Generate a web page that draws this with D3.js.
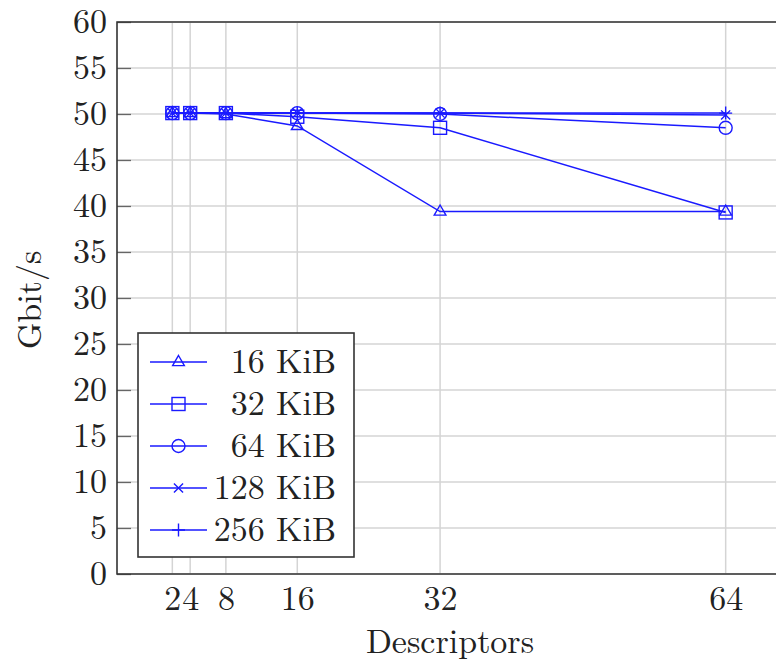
<!DOCTYPE html>
<html><head><meta charset="utf-8">
<script src="https://cdn.jsdelivr.net/npm/d3@7"></script>
<style>body{margin:0;background:#fff}</style>
</head><body><svg id="c" width="776" height="662"></svg>
<script>
const descriptors = [2, 4, 8, 16, 32, 64];
const seriesNames = ["16 KiB", "32 KiB", "64 KiB", "128 KiB", "256 KiB"];
const markers = ["triangle", "square", "circle", "cross", "plus"];
const v16 = [50.1, 50.1, 50.0, 48.7, 39.4, 39.4];
const v32 = [50.1, 50.1, 50.1, 49.7, 48.5, 39.3];
const v64 = [50.1, 50.1, 50.1, 50.1, 50.0, 48.5];
const v128 = [50.1, 50.1, 50.1, 50.1, 50.1, 49.9];
const v256 = [50.1, 50.1, 50.1, 50.1, 50.1, 50.1];
const yTicks = [0,5,10,15,20,25,30,35,40,45,50,55,60];
const seriesValues = [v16, v32, v64, v128, v256];

const FONT = '"Latin Modern Roman","CMU Serif","Liberation Serif",serif';
const FS = 34;
const svg = d3.select("#c");
const L = 117, T = 22, B = 574, R = 781;
const x = d3.scaleLinear().domain([-4.2, 70.2]).range([L, R]);
const y = d3.scaleLinear().domain([0, 60]).range([B, T]);
const blue = "#1a1aff";

// grid
svg.append("g").selectAll("line").data(yTicks).join("line")
  .attr("x1", L).attr("x2", R).attr("y1", d => y(d)).attr("y2", d => y(d))
  .attr("stroke", "#d4d4d4").attr("stroke-width", 1.5);
svg.append("g").selectAll("line").data(descriptors).join("line")
  .attr("x1", d => x(d)).attr("x2", d => x(d)).attr("y1", T).attr("y2", B)
  .attr("stroke", "#d4d4d4").attr("stroke-width", 1.5);

// axes via d3
const yAxis = d3.axisLeft(y).tickValues(yTicks).tickSize(-14);
const gy = svg.append("g").attr("transform", `translate(${L},0)`).call(yAxis);
gy.select(".domain").remove();
gy.selectAll(".tick line").attr("stroke", "#666").attr("stroke-width", 1.3);
gy.selectAll(".tick text").attr("font-size", FS).attr("dy", "0.32em").attr("x", -10)
  .style("font-family", FONT).attr("fill", "#222");

const xAxis = d3.axisBottom(x).tickValues(descriptors).tickSize(0).tickPadding(12);
const gx = svg.append("g").attr("transform", `translate(0,${B})`).call(xAxis);
gx.select(".domain").remove();
gx.selectAll(".tick text").attr("font-size", FS)
  .style("font-family", FONT).attr("fill", "#222");

// border
svg.append("path").attr("d", `M${R},${T}H${L}V${B}H${R}`)
  .attr("fill", "none").attr("stroke", "#333").attr("stroke-width", 1.6);

// markers
function drawMarker(g, type, cx, cy) {
  const s = 6.5;
  if (type === "triangle") {
    g.append("path").attr("d", `M${cx},${cy-s}L${cx+s*0.9},${cy+s*0.55}L${cx-s*0.9},${cy+s*0.55}Z`)
      .attr("fill", "none").attr("stroke", blue).attr("stroke-width", 1.4);
  } else if (type === "square") {
    g.append("rect").attr("x", cx-s).attr("y", cy-s).attr("width", 2*s).attr("height", 2*s)
      .attr("fill", "none").attr("stroke", blue).attr("stroke-width", 1.4);
  } else if (type === "circle") {
    g.append("circle").attr("cx", cx).attr("cy", cy).attr("r", s)
      .attr("fill", "none").attr("stroke", blue).attr("stroke-width", 1.4);
  } else if (type === "cross") {
    const c = s*0.7;
    g.append("path").attr("d", `M${cx-c},${cy-c}L${cx+c},${cy+c}M${cx-c},${cy+c}L${cx+c},${cy-c}`)
      .attr("stroke", blue).attr("stroke-width", 1.4);
  } else {
    g.append("path").attr("d", `M${cx-s},${cy}H${cx+s}M${cx},${cy-s}V${cy+s}`)
      .attr("stroke", blue).attr("stroke-width", 1.4);
  }
}

const line = d3.line().x((d, i) => x(descriptors[i])).y(d => y(d));
seriesValues.forEach((vals, k) => {
  const g = svg.append("g");
  g.append("path").attr("d", line(vals)).attr("fill", "none").attr("stroke", blue).attr("stroke-width", 1.5);
  vals.forEach((v, i) => drawMarker(g, markers[k], x(descriptors[i]), y(v)));
});

// legend
const lg = svg.append("g");
lg.append("rect").attr("x", 138).attr("y", 333).attr("width", 216).attr("height", 224)
  .attr("fill", "#fff").attr("stroke", "#333").attr("stroke-width", 1.6);
seriesNames.forEach((n, k) => {
  const cy = 362 + k * 42;
  lg.append("line").attr("x1", 150).attr("x2", 207).attr("y1", cy).attr("y2", cy)
    .attr("stroke", blue).attr("stroke-width", 1.5);
  drawMarker(lg, markers[k], 178.5, cy);
  lg.append("text").attr("x", 336).attr("y", cy + 11).attr("text-anchor", "end")
    .attr("font-size", FS).style("font-family", FONT).attr("fill", "#222").text(n);
});

// axis titles
svg.append("text").attr("x", 450).attr("y", 653).attr("text-anchor", "middle")
  .attr("font-size", FS).style("font-family", FONT).attr("fill", "#222").text("Descriptors");
svg.append("text").attr("transform", "translate(41,300) rotate(-90)").attr("text-anchor", "middle")
  .attr("font-size", FS).style("font-family", FONT).attr("fill", "#222").text("Gbit/s");
</script></body></html>
